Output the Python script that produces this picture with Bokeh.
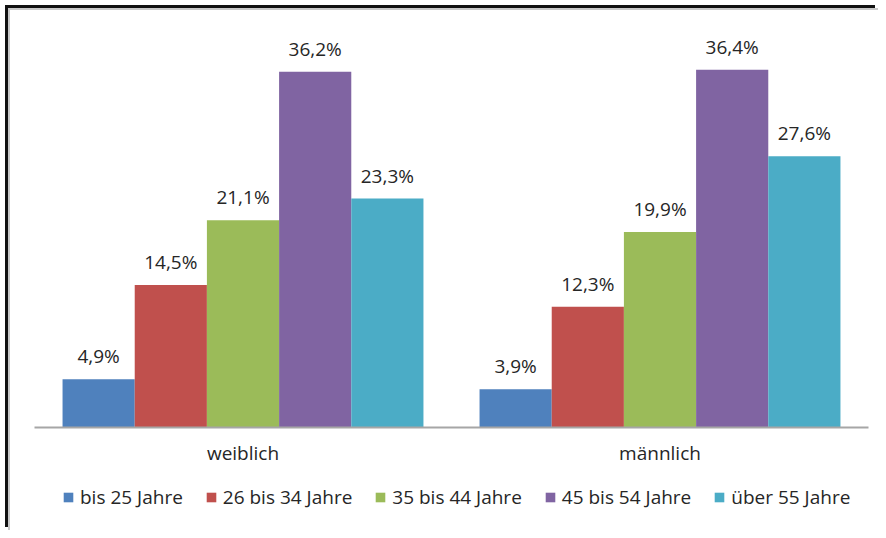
from bokeh.plotting import figure
from bokeh.models import ColumnDataSource, FactorRange, Legend, LegendItem
from bokeh.layouts import column
from bokeh.transform import dodge
from bokeh.core.properties import value
from bokeh.embed import file_html
from bokeh.resources import INLINE

groups = ["weiblich", "männlich"]
series = ["bis 25 Jahre", "26 bis 34 Jahre", "35 bis 44 Jahre", "45 bis 54 Jahre", "über 55 Jahre"]
bis25 = [4.9, 3.9]
b26_34 = [14.5, 12.3]
b35_44 = [21.1, 19.9]
b45_54 = [36.2, 36.4]
ueber55 = [23.3, 27.6]
colors = ["#4F81BD", "#C0504D", "#9BBB59", "#8064A2", "#4BACC6"]

values = [bis25, b26_34, b35_44, b45_54, ueber55]

FONT = "Open Sans"
TXT = "#262626"

p = figure(x_range=FactorRange(*groups), y_range=(0, 40), width=868, height=460,
           output_backend="svg", toolbar_location=None, y_axis_location=None,
           min_border_left=24, min_border_right=10, min_border_top=24, min_border_bottom=43)
p.outline_line_color = None
p.xgrid.visible = False
p.ygrid.visible = False

bw = 0.1731
for i, (name, vals, col) in enumerate(zip(series, values, colors)):
    src = ColumnDataSource(dict(g=groups, v=vals, lab=[f"{v:.1f}".replace(".", ",") + "%" for v in vals]))
    off = (i - 2) * bw
    p.vbar(x=dodge("g", off, range=p.x_range), top="v", width=bw, source=src,
           fill_color=col, line_color=None)
    p.text(x=dodge("g", off, range=p.x_range), y="v", text="lab", source=src,
           text_align="center", text_baseline="alphabetic", y_offset=-23,
           text_font=value(FONT), text_font_size="19px", text_color=TXT)

ax = p.xaxis[0]
ax.axis_line_color = "#a6a6a6"
ax.axis_line_width = 2
ax.major_tick_line_color = None
ax.minor_tick_line_color = None
ax.major_label_standoff = 6
ax.major_label_text_font = FONT
ax.major_label_text_font_size = "19px"
ax.major_label_text_color = TXT

# legend strip
lg = figure(width=868, height=60, output_backend="svg", toolbar_location=None,
            x_axis_location=None, y_axis_location=None, x_range=(0, 1), y_range=(0, 1),
            min_border=0, min_border_left=0, min_border_right=0, min_border_top=0, min_border_bottom=0)
lg.outline_line_color = None
lg.xgrid.visible = False
lg.ygrid.visible = False
items = []
for name, col in zip(series, colors):
    r = lg.vbar(x=[0.5], top=[0.5], bottom=[0.5], width=0, fill_color=col, line_color=None)
    items.append(LegendItem(label=name, renderers=[r]))
legend = Legend(items=items, orientation="horizontal", location=(28, 20),
                glyph_width=12, glyph_height=12, label_standoff=6, spacing=22,
                label_text_font=FONT, label_text_font_size="19px", label_text_color=TXT,
                border_line_color=None, background_fill_alpha=0, padding=0, margin=0)
lg.add_layout(legend)

lay = column(p, lg, spacing=0)
lay.styles = {"margin-left": "8px", "margin-top": "8px",
              "border-top": "2px solid #c8c8c8", "border-left": "2px solid #c8c8c8",
              "box-shadow": "-3px -3px 0 0 #111111"}

open("out.html", "w").write(file_html(lay, INLINE))
